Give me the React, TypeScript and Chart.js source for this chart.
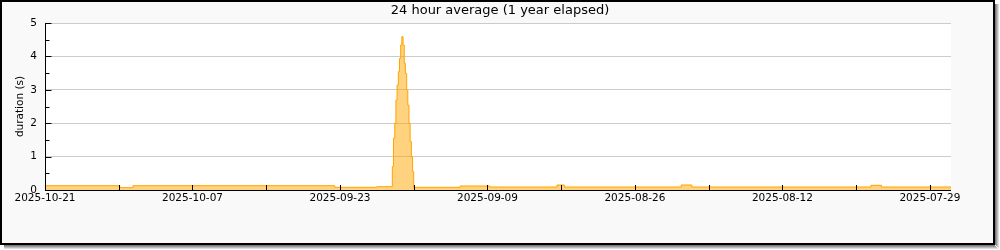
import { useEffect, useRef } from 'react';
import { Chart, registerables } from 'chart.js';

Chart.register(...registerables);

const FONT = 'DejaVu Sans';
const LATEST_DATE = '2025-10-21';
const TITLE = '24 hour average (1 year elapsed)';
const Y_TITLE = 'duration (s)';

// x tick labels (dates, newest on the left)
const tickLabels = ['2025-10-21', '2025-10-07', '2025-09-23', '2025-09-09', '2025-08-26', '2025-08-12', '2025-07-29'];
const xMaxDaysAgo = 86;
const minorTickStepDays = 7;
const yTickValues = [0, 1, 2, 3, 4, 5];
const yMinorStep = 0.5;

// series: step starts in "days before 2025-10-21" and the 24h average (s) held from that point
const daysAgo = [
  0, 7.1, 8.35, 27.5, 31.5,
  32.97, 33.08, 33.2, 33.31, 33.42, 33.54, 33.65, 33.76, 33.87,
  33.99, 34.1, 34.21, 34.33, 34.44, 34.55, 34.66, 34.78, 34.89,
  35.0, 39.4, 42.2, 48.6, 49.3, 60.4, 61.4, 78.4, 79.4, 86,
];
const durations = [
  0.13, 0.07, 0.13, 0.08, 0.1,
  0.7, 1.55, 2.0, 2.69, 3.14, 3.54, 3.94, 4.34, 4.59,
  4.34, 3.79, 3.49, 2.99, 2.54, 2.0, 1.45, 1.0, 0.55,
  0.08, 0.12, 0.09, 0.15, 0.09, 0.15, 0.09, 0.14, 0.09, 0.09,
];

const DAY = 86400000;
const daysAgoOf = (label: string) => (Date.parse(LATEST_DATE) - Date.parse(label)) / DAY;
const labelOf = (d: number) => new Date(Date.parse(LATEST_DATE) - Math.round(d) * DAY).toISOString().slice(0, 10);

const framePlugin = {
  id: 'frame',
  beforeDraw(chart: any) {
    const ctx = chart.ctx as CanvasRenderingContext2D;
    const { left, right, top, bottom } = chart.chartArea;
    ctx.save();
    ctx.fillStyle = '#ffffff';
    ctx.fillRect(0, 0, chart.width, chart.height);
    const shades = ['#7a7a7a', '#9a9a9a', '#bbbbbb', '#dddddd'];
    shades.forEach((c, i) => {
      ctx.fillStyle = c;
      ctx.fillRect(995 + i, 4, 1, 245 - 4 + i);
      ctx.fillRect(4, 245 + i, 995 - 4 + i, 1);
    });
    ctx.fillStyle = '#000000';
    ctx.fillRect(0, 0, 995, 245);
    ctx.fillStyle = '#f9f9f9';
    ctx.fillRect(2, 2, 991, 241);
    ctx.fillStyle = '#ffffff';
    ctx.fillRect(left, top, right - left, bottom - top);
    ctx.restore();
  },
  afterDatasetsDraw(chart: any) {
    const ctx = chart.ctx as CanvasRenderingContext2D;
    const { left, right, top, bottom } = chart.chartArea;
    const xs = chart.scales.x;
    const ys = chart.scales.y;
    ctx.save();
    ctx.strokeStyle = '#000000';
    ctx.lineWidth = 1;
    ctx.beginPath();
    const ax = Math.round(left) + 0.5;
    const ay = Math.round(bottom) + 0.5;
    ctx.moveTo(ax, Math.round(top));
    ctx.lineTo(ax, ay + 0.5);
    ctx.moveTo(ax, ay);
    ctx.lineTo(Math.round(right), ay);
    // y ticks (inward)
    for (let v = 0; v <= yTickValues[yTickValues.length - 1] + 1e-9; v += yMinorStep) {
      const py = Math.round(ys.getPixelForValue(v)) + 0.5;
      const major = Math.abs(v - Math.round(v)) < 1e-9;
      ctx.moveTo(ax, py);
      ctx.lineTo(ax + (major ? 6 : 4), py);
    }
    // x ticks (inward)
    for (let d = 0; d <= xMaxDaysAgo; d += minorTickStepDays) {
      const px = Math.round(xs.getPixelForValue(d)) + 0.5;
      ctx.moveTo(px, ay);
      ctx.lineTo(px, ay - 5.5);
    }
    ctx.stroke();
    ctx.restore();
  },
};

export default function App() {
  const ref = useRef<HTMLCanvasElement>(null);
  useEffect(() => {
    const canvas = ref.current;
    if (!canvas) return;
    const chart = new Chart(canvas, {
      type: 'line',
      data: {
        datasets: [
          {
            data: daysAgo.map((d, i) => ({ x: d, y: durations[i] })),
            stepped: true,
            fill: 'origin',
            backgroundColor: 'rgba(255,165,0,0.5)',
            borderColor: '#ffa500',
            borderWidth: 1,
            pointRadius: 0,
            tension: 0,
          },
        ],
      },
      options: {
        animation: false,
        responsive: false,
        maintainAspectRatio: false,
        devicePixelRatio: 1,
        layout: { padding: 0 },
        plugins: {
          legend: { display: false },
          tooltip: { enabled: false },
          title: {
            display: true,
            text: TITLE,
            color: '#000000',
            font: { family: FONT, size: 13, weight: 'normal' },
            padding: { top: 3, bottom: 4.4 },
          },
        },
        scales: {
          x: {
            type: 'linear',
            min: 0,
            max: xMaxDaysAgo,
            grid: { display: false, drawTicks: false },
            border: { display: false },
            afterBuildTicks: (s: any) => {
              s.ticks = tickLabels.map((l) => ({ value: daysAgoOf(l) }));
            },
            ticks: {
              autoSkip: false,
              maxRotation: 0,
              padding: 2,
              color: '#000000',
              font: { family: FONT, size: 10.5 },
              callback: (v: any) => labelOf(Number(v)),
            },
            afterFit: (s: any) => {
              s.height = 60;
            },
          },
          y: {
            type: 'linear',
            min: 0,
            max: 5,
            afterBuildTicks: (s: any) => {
              s.ticks = yTickValues.map((v) => ({ value: v }));
            },
            grid: { color: '#cccccc', drawTicks: false },
            border: { display: false },
            ticks: {
              padding: 8,
              color: '#000000',
              font: { family: FONT, size: 10.5 },
            },
            title: {
              display: true,
              text: Y_TITLE,
              color: '#000000',
              font: { family: FONT, size: 10.5 },
              padding: { top: 13.7, bottom: 0 },
            },
            afterFit: (s: any) => {
              s.width = 45;
            },
          },
          y2: {
            type: 'linear',
            position: 'right',
            display: true,
            grid: { display: false, drawTicks: false },
            border: { display: false },
            ticks: { display: false },
            afterFit: (s: any) => {
              s.width = 49;
            },
          },
        },
      },
      plugins: [framePlugin],
    });
    return () => chart.destroy();
  }, []);
  return (
    <div style={{ position: 'absolute', left: 0, top: 0, width: 1000, height: 250 }}>
      <canvas ref={ref} width={1000} height={250} style={{ display: 'block', width: 1000, height: 250 }} />
    </div>
  );
}
